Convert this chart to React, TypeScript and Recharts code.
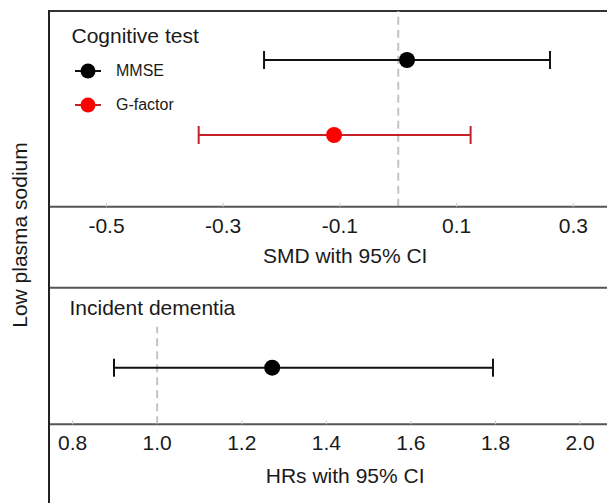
import React from 'react';
import { ScatterChart, Scatter, XAxis, YAxis, ErrorBar, ReferenceLine, Legend } from 'recharts';

// ---- Top panel: cognitive tests (SMD with 95% CI) ----
const smdLabels = ['MMSE', 'G-factor'];
const smdEstimate = [0.015, -0.11];
const smdLower = [-0.23, -0.342];
const smdUpper = [0.26, 0.124];
const smdRow = [2, 1];
const smdTicks = [-0.5, -0.3, -0.1, 0.1, 0.3];
const smdPointColors = ['#000000', '#ff0000'];
const smdBarColors = ['#111111', '#c8202a'];

// ---- Bottom panel: incident dementia (HR with 95% CI) ----
const hrLabels = ['Incident dementia'];
const hrEstimate = [1.272];
const hrLower = [0.898];
const hrUpper = [1.794];
const hrRow = [1];
const hrTicks = [0.8, 1.0, 1.2, 1.4, 1.6, 1.8, 2.0];

const FONT = '"Liberation Sans", Arial, Helvetica, sans-serif';
const TEXT = '#1a1a1a';

const smdSeries = smdLabels.map((name, i) => ({
  name,
  color: smdPointColors[i],
  barColor: smdBarColors[i],
  data: [{ x: smdEstimate[i], y: smdRow[i], err: [smdEstimate[i] - smdLower[i], smdUpper[i] - smdEstimate[i]] }],
}));

const hrData = hrLabels.map((name, i) => ({
  name,
  x: hrEstimate[i],
  y: hrRow[i],
  err: [hrEstimate[i] - hrLower[i], hrUpper[i] - hrEstimate[i]],
}));

const dot = (color: string) => (props: any) => (
  <circle cx={props.cx} cy={props.cy} r={8} fill={color} />
);

const fmt = (v: number) => v.toFixed(1);

const TopLegend = () => (
  <div style={{ fontFamily: FONT, color: TEXT }}>
    <div style={{ fontSize: 21, lineHeight: '27px', whiteSpace: 'nowrap' }}>Cognitive test</div>
    <div style={{ marginTop: 5 }}>
      {smdSeries.map((s) => (
        <div key={s.name} style={{ display: 'flex', alignItems: 'center', height: 34 }}>
          <svg width={26} height={20} style={{ marginLeft: 3.5, overflow: 'visible' }}>
            <line x1={0} y1={10} x2={26} y2={10} stroke={s.barColor} strokeWidth={2} />
            <circle cx={13} cy={10} r={7.5} fill={s.color} />
          </svg>
          <span style={{ marginLeft: 15, fontSize: 16, whiteSpace: 'nowrap' }}>{s.name}</span>
        </div>
      ))}
    </div>
  </div>
);

const BottomLegend = () => (
  <div style={{ fontFamily: FONT, color: TEXT, fontSize: 21, lineHeight: '27px', whiteSpace: 'nowrap' }}>
    {hrLabels[0]}
  </div>
);

const SMD_Y_MAX = 2.653;
const HR_Y_MAX = 2.414;

export default function App() {
  return (
    <div
      style={{
        position: 'absolute',
        left: 0,
        top: 0,
        width: 607,
        height: 503,
        overflow: 'hidden',
        background: '#fff',
        fontFamily: FONT,
      }}
    >
      <div style={{ position: 'absolute', left: 0, top: 0 }}>
        <ScatterChart width={660} height={270} margin={{ top: 11, right: 19, left: 49.3, bottom: 0 }}>
          <XAxis
            type="number"
            dataKey="x"
            domain={[-0.598, 0.416]}
            allowDataOverflow
            ticks={smdTicks}
            interval={0}
            tickFormatter={fmt}
            height={63.3}
            tickSize={-4}
            tickMargin={15}
            tickLine={{ stroke: '#d0d0d0', strokeWidth: 1 }}
            axisLine={{ stroke: '#555', strokeWidth: 2 }}
            tick={{ fontSize: 21, fill: TEXT, fontFamily: FONT }}
            label={{ value: 'SMD with 95% CI', position: 'insideBottom', offset: 7.5, fontSize: 21, fill: TEXT, fontFamily: FONT }}
          />
          <YAxis type="number" dataKey="y" domain={[0.044, SMD_Y_MAX]} allowDataOverflow hide />
          <ReferenceLine y={SMD_Y_MAX} stroke="#333" strokeWidth={2} />
          <ReferenceLine x={0} stroke="#c4c4c4" strokeWidth={2} strokeDasharray="8 5" />
          {smdSeries.map((s) => (
            <Scatter key={s.name} name={s.name} data={s.data} fill={s.color} shape={dot(s.color)} isAnimationActive={false}>
              <ErrorBar dataKey="err" direction="x" width={9} stroke={s.barColor} strokeWidth={2} isAnimationActive={false} />
            </Scatter>
          ))}
          <Legend
            layout="vertical"
            align="center"
            verticalAlign="middle"
            content={() => <TopLegend />}
            wrapperStyle={{ top: 22, left: 71.5, width: 220, height: 'auto' }}
          />
        </ScatterChart>
      </div>

      <div style={{ position: 'absolute', left: 0, top: 270 }}>
        <ScatterChart width={660} height={233} margin={{ top: 17.7, right: 19, left: 49.3, bottom: 0 }}>
          <XAxis
            type="number"
            dataKey="x"
            domain={[0.745, 2.144]}
            allowDataOverflow
            ticks={hrTicks}
            interval={0}
            tickFormatter={fmt}
            height={78.7}
            tickSize={-4}
            tickMargin={15}
            tickLine={{ stroke: '#d0d0d0', strokeWidth: 1 }}
            axisLine={{ stroke: '#555', strokeWidth: 2 }}
            tick={{ fontSize: 21, fill: TEXT, fontFamily: FONT }}
            label={{ value: 'HRs with 95% CI', position: 'insideBottom', offset: 20, fontSize: 21, fill: TEXT, fontFamily: FONT }}
          />
          <YAxis type="number" dataKey="y" domain={[0, HR_Y_MAX]} allowDataOverflow hide />
          <ReferenceLine y={HR_Y_MAX} stroke="#555" strokeWidth={2} />
          <ReferenceLine
            segment={[{ x: 1, y: 0 }, { x: 1, y: 1.725 }]}
            stroke="#c4c4c4"
            strokeWidth={2}
            strokeDasharray="8 5"
          />
          <Scatter name={hrLabels[0]} data={hrData} fill="#000" shape={dot('#000')} isAnimationActive={false}>
            <ErrorBar dataKey="err" direction="x" width={9} stroke="#111" strokeWidth={2} isAnimationActive={false} />
          </Scatter>
          <Legend
            layout="vertical"
            align="center"
            verticalAlign="middle"
            content={() => <BottomLegend />}
            wrapperStyle={{ top: 24.2, left: 69.5, width: 260, height: 'auto' }}
          />
        </ScatterChart>
      </div>

      <div style={{ position: 'absolute', left: 48.3, top: 10, width: 2, height: 493, background: '#222' }} />

      <div
        style={{
          position: 'absolute',
          left: 20,
          top: 235,
          transform: 'translate(-50%, -50%) rotate(-90deg)',
          whiteSpace: 'nowrap',
          fontSize: 21,
          lineHeight: '24px',
          color: TEXT,
          fontFamily: FONT,
        }}
      >
        Low plasma sodium
      </div>
    </div>
  );
}
